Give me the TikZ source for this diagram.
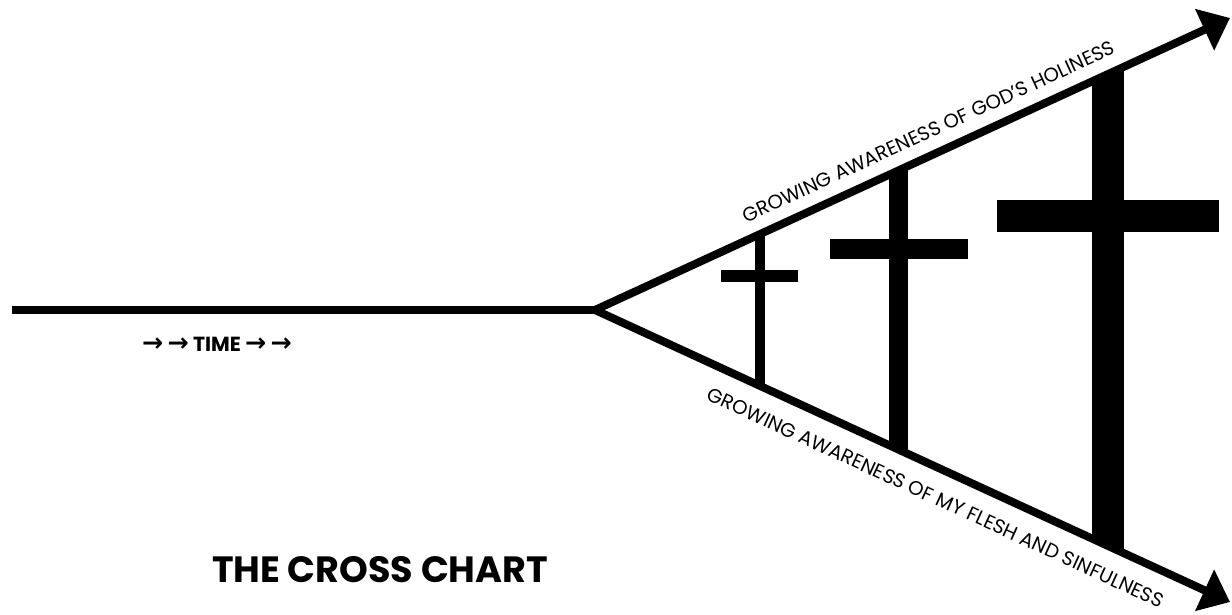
\documentclass[tikz,border=0pt]{standalone}
\usepackage{fontspec}
\setmainfont{Poppins}
\newfontfamily\arrowfont{DejaVu Sans}
\usetikzlibrary{arrows.meta}

\begin{document}
\begin{tikzpicture}[x=0.025cm,y=-0.025cm,
  axis line/.style={line width=0.2cm,line join=miter},
  twin heads/.style={{Triangle[length=0.7cm,width=1.1cm]}-{Triangle[length=0.7cm,width=1.1cm]}},
  cross part/.style={fill=black},
  awareness/.style={font=\fontsize{14}{16}\selectfont,inner sep=0pt,sloped},
  time text/.style={font=\bfseries\fontsize{14.5}{16}\selectfont,inner sep=0pt},
  chart title/.style={font=\bfseries\fontsize{26}{30}\selectfont,inner sep=0pt}]
  \useasboundingbox (0,0) rectangle (1232,615);
  % timeline and the widening arms
  \coordinate (start) at (12,310);
  \coordinate (apex) at (595,310);
  \coordinate (holy) at (1230,18);
  \coordinate (flesh) at (1230,602);
  \draw[axis line] (start) -- (apex);
  \draw[axis line,twin heads] (holy) -- (apex) -- (flesh);
  % upright posts, cut off at the arms
  \begin{scope}
    \clip (apex) -- (holy) -- (flesh) -- cycle;
    \fill[cross part] (755,0) rectangle (765,615);
    \fill[cross part] (889,0) rectangle (908,615);
    \fill[cross part] (1092,0) rectangle (1124,615);
  \end{scope}
  % cross beams
  \fill[cross part] (721,270) rectangle (798,282);
  \fill[cross part] (830,239) rectangle (968,259);
  \fill[cross part] (997,200) rectangle (1219,232);
  % labels
  \path (apex) -- (holy) node[awareness,pos=0.54,above=0.38cm] (holytext) {GROWING AWARENESS OF GOD’S HOLINESS};
  \path (apex) -- (flesh) node[awareness,pos=0.555,below=0.52cm] (fleshtext) {GROWING AWARENESS OF MY FLESH AND SINFULNESS};
  \node[time text] (time) at (217,344) {{\arrowfont\fontsize{18}{18}\selectfont →\,→}\ TIME\ {\arrowfont\fontsize{18}{18}\selectfont →\,→}};
  \node[chart title] (title) at (380,570) {THE CROSS CHART};
\end{tikzpicture}
\end{document}
